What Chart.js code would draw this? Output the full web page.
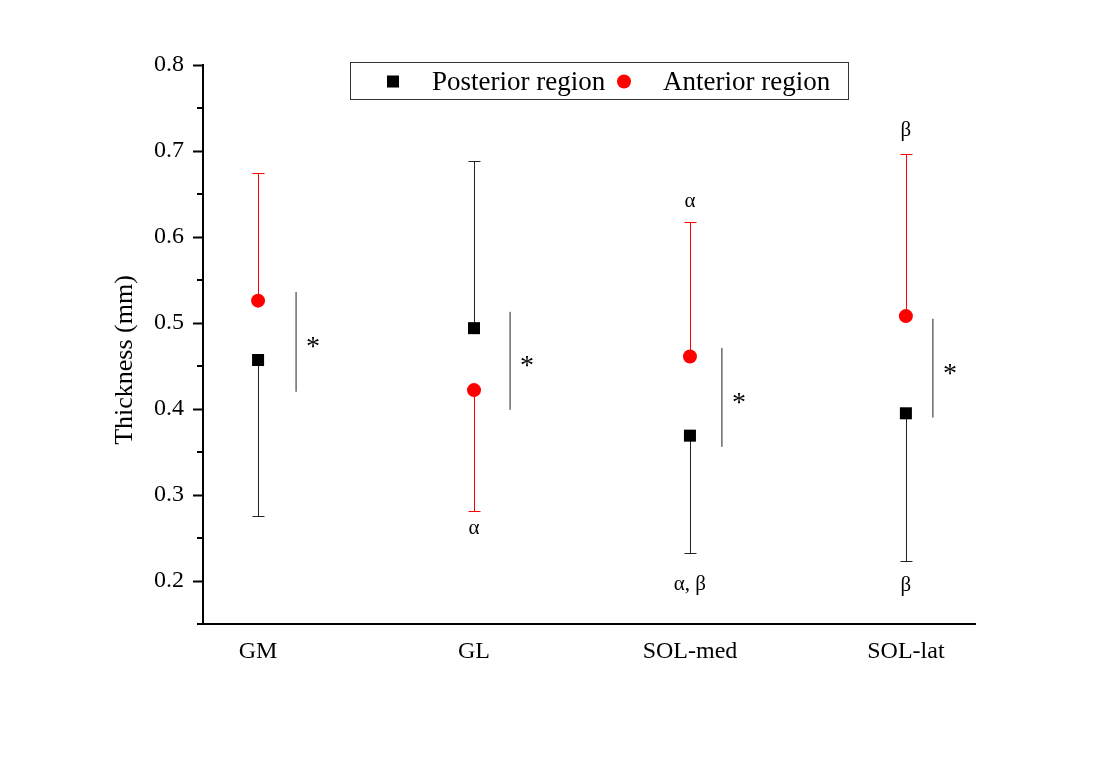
<!DOCTYPE html>
<html lang="en">
<head>
    <meta charset="UTF-8">
    <title>Thickness by region</title>
    <script src="https://cdn.jsdelivr.net/npm/chart.js"></script>
    <style>
        html, body {
            margin: 0;
            padding: 0;
            background: #fff;
        }
    </style>
</head>
<body>
    <canvas id="grafico" width="1103" height="771"></canvas>

    <script>
        // dados
        const categorias = ['GM', 'GL', 'SOL-med', 'SOL-lat'];
        const posteriorMedia = [0.457, 0.494, 0.369, 0.395];
        const posteriorBarra = [0.276, 0.688, 0.232, 0.223];   // extremo da barra de erro
        const anteriorMedia = [0.526, 0.422, 0.461, 0.508];
        const anteriorBarra = [0.674, 0.281, 0.617, 0.697];

        // linhas de significancia (*)
        const sigX = [1.176, 2.167, 3.148, 4.125];
        const sigTopo = [0.536, 0.513, 0.471, 0.505];
        const sigBase = [0.420, 0.399, 0.356, 0.390];

        // notas gregas
        const notaTexto = ['α', 'α', 'α, β', 'β', 'β'];
        const notaX = [2, 3, 3, 4, 4];
        const notaY = [0.261, 0.641, 0.196, 0.724, 0.195];

        const yTicks = [0.2, 0.3, 0.4, 0.5, 0.6, 0.7, 0.8];
        const yMenores = [0.15, 0.25, 0.35, 0.45, 0.55, 0.65, 0.75];
        const tituloY = 'Thickness (mm)';

        const fonte = "'Liberation Serif', 'Times New Roman', serif";
        const PRETO = '#000';
        const CINZA = '#222';
        const VERMELHO = '#ff0000';

        const extras = {
            id: 'extras',
            beforeDatasetsDraw(chart) {
                const { ctx, scales: { x, y } } = chart;
                ctx.save();
                const barra = (medias, fins, cor) => {
                    ctx.strokeStyle = cor;
                    ctx.lineWidth = 1;
                    medias.forEach((m, i) => {
                        const px = Math.round(x.getPixelForValue(i + 1)) + 0.5;
                        const y0 = y.getPixelForValue(m);
                        const y1 = Math.round(y.getPixelForValue(fins[i])) + 0.5;
                        ctx.beginPath();
                        ctx.moveTo(px, y0);
                        ctx.lineTo(px, y1);
                        ctx.moveTo(px - 6, y1);
                        ctx.lineTo(px + 6, y1);
                        ctx.stroke();
                    });
                };
                barra(posteriorMedia, posteriorBarra, CINZA);
                barra(anteriorMedia, anteriorBarra, VERMELHO);
                ctx.restore();
            },
            afterDraw(chart) {
                const { ctx, scales: { x, y } } = chart;
                ctx.save();

                // ticks menores do eixo y
                ctx.strokeStyle = PRETO;
                ctx.lineWidth = 2;
                yMenores.forEach(v => {
                    const py = Math.round(y.getPixelForValue(v));
                    ctx.beginPath();
                    ctx.moveTo(y.right, py);
                    ctx.lineTo(y.right - 6, py);
                    ctx.stroke();
                });

                // titulo do eixo y (um pouco abaixo do centro, como no original)
                ctx.fillStyle = PRETO;
                ctx.textAlign = 'center';
                ctx.textBaseline = 'middle';
                ctx.font = `26px ${fonte}`;
                ctx.save();
                ctx.translate(125, 360);
                ctx.rotate(-Math.PI / 2);
                ctx.fillText(tituloY, 0, 0);
                ctx.restore();

                // asteriscos
                ctx.font = `28px ${fonte}`;
                sigX.forEach((sx, i) => {
                    const px = x.getPixelForValue(sx) + 17;
                    const py = y.getPixelForValue((sigTopo[i] + sigBase[i]) / 2) + 6;
                    ctx.fillText('*', px, py);
                });

                // notas
                ctx.font = `21px ${fonte}`;
                notaTexto.forEach((t, i) => {
                    ctx.fillText(t, x.getPixelForValue(notaX[i]), y.getPixelForValue(notaY[i]));
                });

                // legenda
                const lx = 350, ly = 62, lw = 498, lh = 37;
                ctx.fillStyle = '#fff';
                ctx.fillRect(lx, ly, lw, lh);
                ctx.strokeStyle = '#333';
                ctx.lineWidth = 1;
                ctx.strokeRect(lx + 0.5, ly + 0.5, lw, lh);
                const itens = [
                    { ds: chart.data.datasets[0], mx: 393, tx: 432 },
                    { ds: chart.data.datasets[1], mx: 624, tx: 663 }
                ];
                const cy = ly + lh / 2 + 2;
                ctx.font = `27px ${fonte}`;
                ctx.textAlign = 'left';
                itens.forEach(it => {
                    ctx.fillStyle = it.ds.backgroundColor;
                    ctx.strokeStyle = it.ds.backgroundColor;
                    Chart.helpers.drawPoint(ctx, {
                        pointStyle: it.ds.pointStyle,
                        radius: it.ds.pointStyle === 'rect' ? 8.5 : 7,
                        borderWidth: 0
                    }, it.mx, cy - 1);
                    ctx.fillStyle = PRETO;
                    ctx.fillText(it.ds.label, it.tx, cy);
                });

                ctx.restore();
            }
        };

        const pontos = medias => medias.map((v, i) => ({ x: i + 1, y: v }));

        const linhasSig = sigX.map((sx, i) => ({
            type: 'line',
            label: 'sig' + i,
            data: [{ x: sx, y: sigBase[i] }, { x: sx, y: sigTopo[i] }],
            borderColor: CINZA,
            borderWidth: 1,
            pointRadius: 0,
            fill: false
        }));

        const ctx = document.getElementById('grafico').getContext('2d');
        new Chart(ctx, {
            type: 'scatter',
            data: {
                datasets: [
                    {
                        label: 'Posterior region',
                        data: pontos(posteriorMedia),
                        pointStyle: 'rect',
                        pointRadius: 8.5,
                        backgroundColor: PRETO,
                        borderColor: PRETO,
                        borderWidth: 0
                    },
                    {
                        label: 'Anterior region',
                        data: pontos(anteriorMedia),
                        pointStyle: 'circle',
                        pointRadius: 7,
                        backgroundColor: VERMELHO,
                        borderColor: VERMELHO,
                        borderWidth: 0
                    },
                    ...linhasSig
                ]
            },
            options: {
                responsive: false,
                animation: false,
                layout: { padding: { left: 105, right: 128, top: 65, bottom: 97 } },
                plugins: {
                    legend: { display: false },
                    tooltip: { enabled: false }
                },
                scales: {
                    x: {
                        type: 'linear',
                        min: 0.745,
                        max: 4.32,
                        afterBuildTicks: s => { s.ticks = categorias.map((c, i) => ({ value: i + 1 })); },
                        afterFit: s => { s.height = 50; },
                        grid: { display: false },
                        border: { display: true, color: PRETO, width: 2 },
                        ticks: {
                            padding: 5,
                            color: PRETO,
                            font: { family: fonte, size: 24 },
                            callback: v => categorias[v - 1] || ''
                        }
                    },
                    y: {
                        min: 0.15,
                        max: 0.8,
                        afterBuildTicks: s => { s.ticks = yTicks.map(v => ({ value: v })); },
                        afterFit: s => { s.width = 98; },
                        grid: {
                            display: true,
                            drawOnChartArea: false,
                            drawTicks: true,
                            tickLength: 10,
                            tickWidth: 2,
                            tickColor: PRETO
                        },
                        border: { display: true, color: PRETO, width: 2 },
                        ticks: {
                            padding: 9,
                            color: PRETO,
                            font: { family: fonte, size: 24 },
                            callback: v => v.toFixed(1)
                        }
                    }
                }
            },
            plugins: [extras]
        });
    </script>
</body>
</html>
